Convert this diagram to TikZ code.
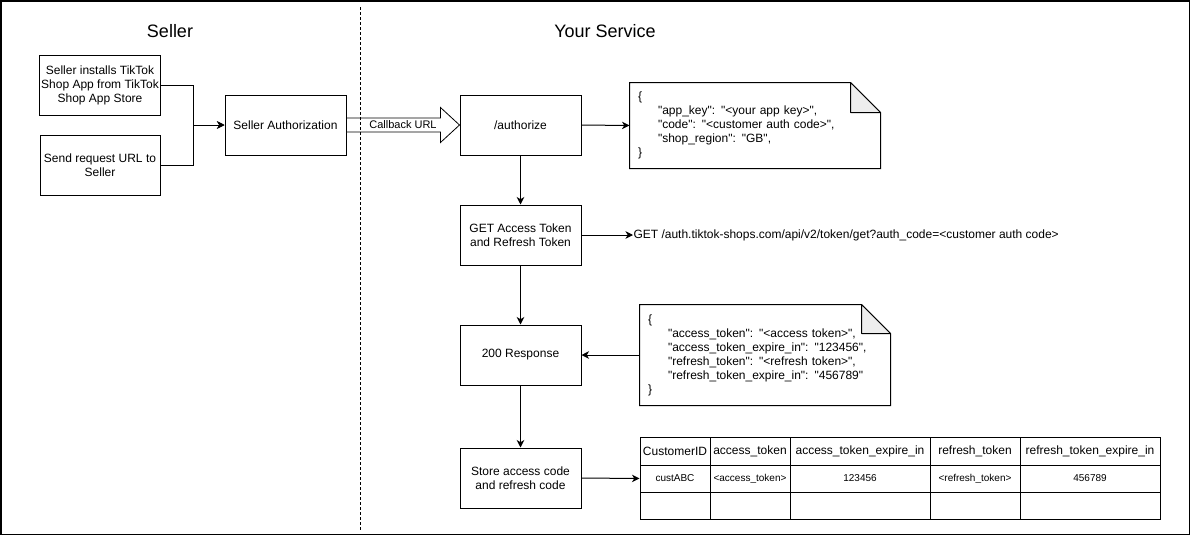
\documentclass[tikz,border=0pt]{standalone}
\usepackage{fontspec}
\setmainfont{Liberation Sans}[Ligatures=TeXOff]
\usetikzlibrary{arrows.meta,calc}
\begin{document}
\begin{tikzpicture}[x=1pt,y=-1pt,line width=1pt,
  box/.style={draw,fill=white,minimum width=120pt,minimum height=60pt,align=center,inner sep=2pt,font=\fontsize{12}{14}\selectfont},
  arr/.style={-{Stealth[length=7.5pt,width=7.5pt,inset=2.2pt]}},
  title/.style={font=\fontsize{18}{22}\selectfont},
  notebox/.style={minimum height=85pt,inner xsep=8pt,text width=234pt,align=left,font=\fontsize{12}{14}\selectfont},
  foldfill/.style={fill=black!7,draw,line join=round},
  hcell/.style={draw,minimum height=27.5pt,inner sep=0pt,font=\fontsize{12}{14}\selectfont},
  dcell/.style={draw,minimum height=27pt,inner sep=0pt,font=\fontsize{10}{12}\selectfont},
  lbl/.style={font=\fontsize{12}{14}\selectfont,inner sep=0pt}
]
\useasboundingbox (0,0) rectangle (1192,536);
\draw[line width=1.4pt] (1,1) rectangle (1189.5,534.5);

% titles
\node[title] (tseller) at (170,31) {Seller};
\node[title] (tservice) at (605,31) {Your Service};

% left boxes
\node[box] (A) at (100,85) {Seller installs TikTok\\Shop App from TikTok\\Shop App Store};
\node[box] (B) at (100,165) {Send request URL to\\Seller};
\node[box,minimum width=121pt] (SA) at (285.5,125) {Seller Authorization};

\coordinate (jn) at (193,125);
\draw[arr] (A.east) -| (jn) -- (SA.west);
\draw[arr] (B.east) -| (jn) -- (SA.west);

% service boxes
\node[box,minimum width=121pt] (AU) at (520.5,125) {/authorize};
\node[box,minimum width=121pt] (GT) at (520.5,235) {GET Access Token\\and Refresh Token};
\node[box,minimum width=121pt] (R2) at (520.5,355) {200 Response};
\node[box,minimum width=121pt] (ST) at (520.5,478) {Store access code\\and refresh code};

% block arrow Callback URL
\draw[fill=white,line width=0.8pt,line join=miter]
  ($(SA.east)+(0,-7)$) -- ($(AU.west)+(-19,-7)$) -- ($(AU.west)+(-19,-17.5)$)
  -- (AU.west) -- ($(AU.west)+(-19,17.5)$) -- ($(AU.west)+(-19,7)$)
  -- ($(SA.east)+(0,7)$) -- cycle;
\node[font=\fontsize{11}{13}\selectfont,inner sep=0pt] (cb) at (403,125) {Callback URL};

% dashed separator
\coordinate (dtop) at (360,7);
\coordinate (dbot) at (360,531);
\draw[line width=0.9pt,dash pattern=on 3pt off 2pt] (dtop) -- (dbot);

% note 1
\node[notebox] (N1) at (755,125.5) {};
\draw[fill=white] (N1.north west) -- ($(N1.north east)+(-30pt,0)$) -- ($(N1.north east)+(0,-30pt)$) -- (N1.south east) -- (N1.south west) -- cycle;
\draw[foldfill] ($(N1.north east)+(-30pt,0)$) -- ($(N1.north east)+(-30pt,-30pt)$) -- ($(N1.north east)+(0,-30pt)$) -- cycle;
\node[notebox] (N1t) at (N1.center) {\{\\\hspace*{20pt}"app\_key": "<your app key>",\\\hspace*{20pt}"code": "<customer auth code>",\\\hspace*{20pt}"shop\_region": "GB",\\\}};

% note 2
\node[notebox,minimum height=100pt] (N2) at (765,355) {};
\draw[fill=white] (N2.north west) -- ($(N2.north east)+(-29pt,0)$) -- ($(N2.north east)+(0,-29pt)$) -- (N2.south east) -- (N2.south west) -- cycle;
\draw[foldfill] ($(N2.north east)+(-29pt,0)$) -- ($(N2.north east)+(-29pt,-29pt)$) -- ($(N2.north east)+(0,-29pt)$) -- cycle;
\node[notebox,minimum height=100pt] (N2t) at (N2.center) {\{\\\hspace*{20pt}"access\_token": "<access token>",\\\hspace*{20pt}"access\_token\_expire\_in": "123456",\\\hspace*{20pt}"refresh\_token": "<refresh token>",\\\hspace*{20pt}"refresh\_token\_expire\_in": "456789"\\\}};

% GET text
\node[lbl,anchor=west] (gettxt) at (633,235) {GET /auth.tiktok-shops.com/api/v2/token/get?auth\_code=<customer auth code>};

% table
\node[hcell,minimum width=70pt]  (h1) at (675,451.25)  {CustomerID};
\node[hcell,minimum width=80pt]  (h2) at (750,451.25)  {access\_token};
\node[hcell,minimum width=140pt] (h3) at (860,451.25)  {access\_token\_expire\_in};
\node[hcell,minimum width=90pt]  (h4) at (975,451.25)  {refresh\_token};
\node[hcell,minimum width=140pt] (h5) at (1090,451.25) {refresh\_token\_expire\_in};
\node[dcell,minimum width=70pt]  (d1) at (675,478.5)  {custABC};
\node[dcell,minimum width=80pt]  (d2) at (750,478.5)  {<access\_token>};
\node[dcell,minimum width=140pt] (d3) at (860,478.5)  {123456};
\node[dcell,minimum width=90pt]  (d4) at (975,478.5)  {<refresh\_token>};
\node[dcell,minimum width=140pt] (d5) at (1090,478.5) {456789};
\node[dcell,minimum width=70pt]  (e1) at (675,505.5)  {};
\node[dcell,minimum width=80pt]  (e2) at (750,505.5)  {};
\node[dcell,minimum width=140pt] (e3) at (860,505.5)  {};
\node[dcell,minimum width=90pt]  (e4) at (975,505.5)  {};
\node[dcell,minimum width=140pt] (e5) at (1090,505.5) {};

% connectors
\draw[arr] (AU.east) -- (N1.west);
\draw[arr] (AU.south) -- (GT.north);
\draw[arr] (GT.east) -- (gettxt.west);
\draw[arr] (GT.south) -- (R2.north);
\draw[arr] (N2.west) -- (R2.east);
\draw[arr] (R2.south) -- (ST.north);
\draw[arr] (ST.east) -- (d1.west);
\end{tikzpicture}
\end{document}
